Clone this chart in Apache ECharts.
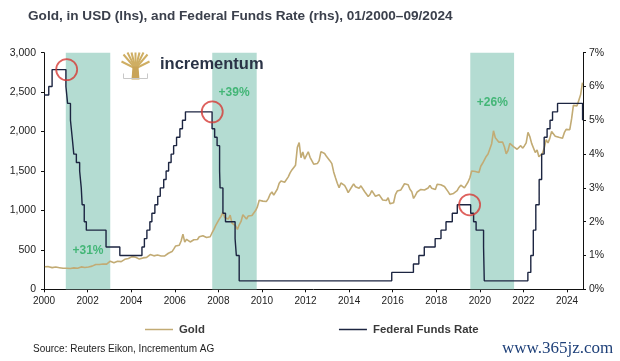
<!DOCTYPE html>
<html><head><meta charset="utf-8">
<script src="https://cdn.jsdelivr.net/npm/echarts@6/dist/echarts.min.js"></script>
<style>html,body{margin:0;padding:0;background:#fff}#c{width:620px;height:361px}</style>
</head><body><div id="c"></div>
<script>
// ---- data ----
const titleText = 'Gold, in USD (lhs), and Federal Funds Rate (rhs), 01/2000\u201309/2024';
const sourceText = 'Source: Reuters Eikon, Incrementum AG';
const xTickYears = [2000,2002,2004,2006,2008,2010,2012,2014,2016,2018,2020,2022,2024];
const goldStartYear = 2000; // monthly values starting January 2000
const goldMonthly = [
 285,300,287,280,275,286,282,276,274,271,266,270,
 266,262,264,260,272,270,267,273,284,282,276,276,
 282,296,294,302,314,322,314,310,320,317,319,334,
 357,360,338,328,356,356,351,360,380,378,390,408,
 414,406,407,403,383,392,398,401,405,421,440,442,
 424,423,434,430,422,431,424,437,457,470,478,512,
 550,555,558,612,700,598,634,632,600,586,628,630,
 632,666,655,680,668,656,666,666,714,756,808,804,
 890,925,975,910,888,890,940,840,830,806,760,818,
 860,945,925,890,930,946,935,950,998,1045,1130,1135,
 1118,1096,1114,1150,1206,1234,1194,1216,1272,1344,1372,1392,
 1358,1374,1426,1476,1514,1530,1574,1800,1860,1668,1740,1650,
 1656,1744,1674,1650,1586,1598,1594,1632,1746,1748,1722,1686,
 1672,1628,1594,1488,1414,1344,1288,1348,1350,1318,1276,1226,
 1244,1300,1336,1300,1288,1280,1312,1296,1240,1222,1176,1202,
 1252,1228,1180,1198,1200,1182,1132,1118,1126,1160,1086,1068,
 1098,1200,1246,1242,1260,1276,1338,1342,1326,1268,1238,1152,
 1192,1234,1232,1266,1246,1260,1236,1284,1316,1280,1282,1264,
 1332,1332,1326,1334,1304,1282,1238,1202,1198,1216,1222,1250,
 1292,1320,1300,1286,1284,1360,1414,1500,1512,1494,1470,1480,
 1560,1598,1592,1684,1716,1732,1846,2010,1922,1900,1866,1858,
 1868,1808,1718,1760,1850,1834,1808,1784,1776,1778,1822,1790,
 1818,1856,1990,1938,1850,1838,1734,1766,1680,1664,1726,1798,
 1898,1856,1914,2000,1990,1942,1952,1928,1916,1916,1986,2028,
 2034,2024,2160,2332,2348,2326,2398,2470,2620
];
const fedDates = ['2000-01-01','2000-03-21','2000-05-16','2001-01-03','2001-01-31','2001-03-20','2001-04-18','2001-05-15','2001-06-27','2001-08-21','2001-09-17','2001-10-02','2001-11-06','2001-12-11','2002-11-06','2003-06-25','2004-06-30','2004-08-10','2004-09-21','2004-11-10','2004-12-14','2005-02-02','2005-03-22','2005-05-03','2005-06-30','2005-08-09','2005-09-20','2005-11-01','2005-12-13','2006-01-31','2006-03-28','2006-05-10','2006-06-29','2007-09-18','2007-10-31','2007-12-11','2008-01-22','2008-01-30','2008-03-18','2008-04-30','2008-10-08','2008-10-29','2008-12-16','2015-12-16','2016-12-14','2017-03-15','2017-06-14','2017-12-13','2018-03-21','2018-06-13','2018-09-26','2018-12-19','2019-07-31','2019-09-18','2019-10-30','2020-03-03','2020-03-15','2022-03-16','2022-05-04','2022-06-15','2022-07-27','2022-09-21','2022-11-02','2022-12-14','2023-02-01','2023-03-22','2023-05-03','2023-07-26','2024-09-18','2024-09-25'];
const fedRates = [5.75,6.0,6.5,6.0,5.5,5.0,4.5,4.0,3.75,3.5,3.0,2.5,2.0,1.75,1.25,1.0,1.25,1.5,1.75,2.0,2.25,2.5,2.75,3.0,3.25,3.5,3.75,4.0,4.25,4.5,4.75,5.0,5.25,4.75,4.5,4.25,3.5,3.0,2.25,2.0,1.5,1.0,0.25,0.5,0.75,1.0,1.25,1.5,1.75,2.0,2.25,2.5,2.25,2.0,1.75,1.25,0.25,0.5,1.0,1.75,2.5,3.25,4.0,4.5,4.75,5.0,5.25,5.5,5.0,5.0];
const bandStarts = [2001.0, 2007.72, 2019.56];
const bandEnds = [2003.04, 2009.76, 2021.57];
const bandLabels = ['+31%','+39%','+26%'];
const bandLabelX = [2002.02, 2008.72, 2020.57];
const bandLabelRate = [1.15, 5.83, 5.53];
const circleX = [2001.04, 2007.72, 2019.53];
const circleRate = [6.5, 5.25, 2.5];

// ---- helpers ----
function decYear(s){
  const p = s.split('-').map(Number);
  const start = Date.UTC(p[0],0,1), end = Date.UTC(p[0]+1,0,1);
  return p[0] + (Date.UTC(p[0],p[1]-1,p[2]) - start)/(end-start);
}
const goldData = goldMonthly.map((v,i)=>[goldStartYear + Math.floor(i/12) + ((i%12)+0.5)/12, v]);
const fedData = fedDates.map((d,i)=>[decYear(d), fedRates[i]]);
const XMIN = 2000, XMAX = decYear('2024-09-25');

const chart = echarts.init(document.getElementById('c'), null, {renderer:'canvas'});
const FONT = 'Liberation Sans, Arial, sans-serif';
chart.setOption({
  animation:false,
  backgroundColor:'#fff',
  title:{text:titleText,left:28,top:9,padding:0,textStyle:{fontFamily:FONT,fontSize:13.6,fontWeight:'bold',color:'#3b404c'}},
  grid:{left:44,right:37,top:52.7,bottom:71.7},
  legend:{left:145,top:324,padding:0,itemWidth:28,itemHeight:1.5,itemGap:134,icon:'rect',
    textStyle:{fontFamily:FONT,fontSize:11.4,fontWeight:'bold',color:'#3a3a3a',padding:[0,0,0,1]},
    data:['Gold','Federal Funds Rate']},
  xAxis:{type:'value',min:XMIN,max:XMAX,interval:2,
    axisLine:{lineStyle:{color:'#111',width:1}},
    axisTick:{length:3,lineStyle:{color:'#111'}},
    splitLine:{show:false},
    axisLabel:{margin:7,fontFamily:FONT,fontSize:10,color:'#222',showMaxLabel:false,
      formatter:v=> xTickYears.indexOf(Math.round(v))>=0 && Math.abs(v-Math.round(v))<1e-6 ? String(Math.round(v)) : ''}},
  yAxis:[
    {type:'value',min:0,max:3000,interval:500,position:'left',
     axisLine:{show:true,lineStyle:{color:'#111'}},axisTick:{show:true,length:3,lineStyle:{color:'#111'}},
     splitLine:{show:false},
     axisLabel:{margin:8,fontFamily:FONT,fontSize:10.5,color:'#222',formatter:v=>v.toLocaleString('en-US')}},
    {type:'value',min:0,max:7,interval:1,position:'right',
     axisLine:{show:true,lineStyle:{color:'#111'}},axisTick:{show:true,length:3,lineStyle:{color:'#111'}},
     splitLine:{show:false},
     axisLabel:{margin:6,fontFamily:FONT,fontSize:10.5,color:'#222',formatter:v=>v+'%'}}
  ],
  series:[
    {name:'bands',type:'line',data:[],z:1,silent:true,
     markArea:{silent:true,itemStyle:{color:'#b4dcd2'},
       data:bandStarts.map((s,i)=>[{xAxis:s},{xAxis:bandEnds[i]}])}},
    {name:'Gold',type:'line',yAxisIndex:0,data:goldData,showSymbol:false,symbol:'none',z:2,
     lineStyle:{color:'#c2ab74',width:1.6},itemStyle:{color:'#c2ab74'}},
    {name:'Federal Funds Rate',type:'line',yAxisIndex:1,data:fedData,step:'end',showSymbol:false,symbol:'none',z:3,
     lineStyle:{color:'#1c2541',width:1.4},itemStyle:{color:'#1c2541'}},
    {name:'circles',type:'scatter',yAxisIndex:1,z:4,symbol:'circle',symbolSize:21,silent:true,
     itemStyle:{color:'rgba(0,0,0,0)',borderColor:'#d63a35',borderWidth:1.8},
     data:circleX.map((x,i)=>[x,circleRate[i]])},
    {name:'labels',type:'scatter',yAxisIndex:1,z:5,symbolSize:0,silent:true,
     label:{show:true,position:'inside',fontFamily:FONT,fontSize:12,fontWeight:'bold',color:'#27ad60',
       formatter:p=>bandLabels[p.dataIndex]},
     data:bandLabelX.map((x,i)=>[x,bandLabelRate[i]])}
  ],
  graphic:[
    {type:'group',left:119,top:50,z:100,children:[
      {type:'line',shape:{x1:14,y1:16,x2:2,y2:2},style:{stroke:'#cfae63',lineWidth:2}},
      {type:'line',shape:{x1:14,y1:16,x2:6,y2:0},style:{stroke:'#cfae63',lineWidth:2}},
      {type:'line',shape:{x1:14,y1:16,x2:10,y2:0},style:{stroke:'#cfae63',lineWidth:2}},
      {type:'line',shape:{x1:14,y1:16,x2:14,y2:0},style:{stroke:'#cfae63',lineWidth:2}},
      {type:'line',shape:{x1:14,y1:16,x2:18,y2:0},style:{stroke:'#cfae63',lineWidth:2}},
      {type:'line',shape:{x1:14,y1:16,x2:22,y2:0},style:{stroke:'#cfae63',lineWidth:2}},
      {type:'line',shape:{x1:14,y1:16,x2:26,y2:2},style:{stroke:'#cfae63',lineWidth:2}},
      {type:'line',shape:{x1:14,y1:16,x2:0,y2:9},style:{stroke:'#cfae63',lineWidth:2}},
      {type:'line',shape:{x1:14,y1:16,x2:28,y2:9},style:{stroke:'#cfae63',lineWidth:2}},
      {type:'polygon',shape:{points:[[11,14],[17,14],[18,27],[10,27]]},style:{fill:'#c9a458'}},
      {type:'polyline',shape:{points:[[2,21],[2,26],[26,26],[26,21]]},style:{stroke:'#c8c8c8',lineWidth:1,fill:null}}
    ]},
    {type:'text',left:160,top:56,z:100,style:{text:'incrementum',fontFamily:FONT,fontSize:16.5,fontWeight:'bold',fill:'#2a3346'}},
    {type:'text',left:33,top:344,z:100,style:{text:sourceText,fontFamily:FONT,fontSize:10,fill:'#222'}},
    {type:'text',left:502,top:340,z:100,style:{text:'www.365jz.com',fontFamily:'Liberation Serif, DejaVu Serif, serif',fontSize:17,fill:'#1d3f78'}}
  ]
});
</script></body></html>
